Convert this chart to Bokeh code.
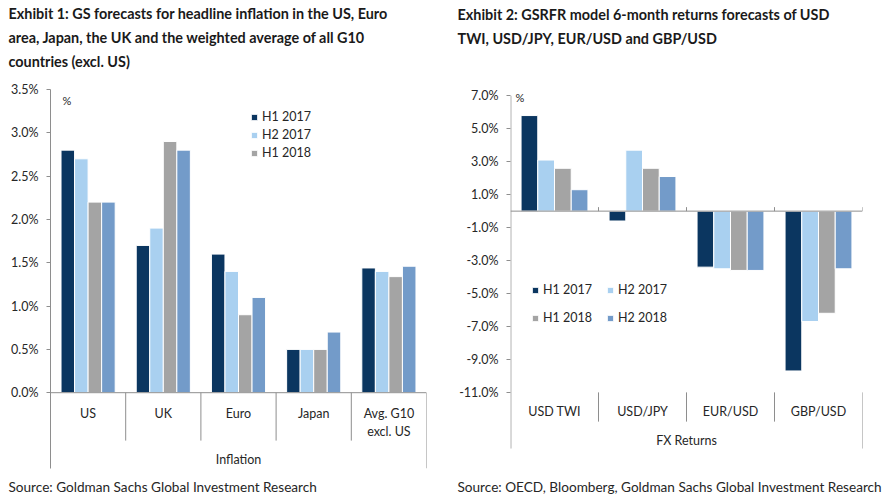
from bokeh.plotting import figure
from bokeh.models import FixedTicker, PrintfTickFormatter, Label, Legend, LegendItem, ColumnDataSource, Title
from bokeh.transform import dodge
from bokeh.layouts import row
from bokeh.core.properties import value
from bokeh.embed import file_html
from bokeh.resources import INLINE

# ---------------- data ----------------
series = ["H1 2017", "H2 2017", "H1 2018", "H2 2018"]
colors = ["#0b3660", "#a9d0f0", "#a4a4a4", "#739bc9"]

inf_categories = ["US", "UK", "Euro", "Japan", "Avg. G10 excl. US"]
inf_labels = ["US", "UK", "Euro", "Japan", "Avg. G10\nexcl. US"]
inf_h1_2017 = [2.8, 1.7, 1.6, 0.5, 1.44]
inf_h2_2017 = [2.7, 1.9, 1.4, 0.5, 1.40]
inf_h1_2018 = [2.2, 2.9, 0.9, 0.5, 1.34]
inf_h2_2018 = [2.2, 2.8, 1.1, 0.7, 1.46]
inf_ticks = [0.0, 0.5, 1.0, 1.5, 2.0, 2.5, 3.0, 3.5]
inf_group = "Inflation"

fx_categories = ["USD TWI", "USD/JPY", "EUR/USD", "GBP/USD"]
fx_h1_2017 = [5.8, -0.6, -3.4, -9.7]
fx_h2_2017 = [3.1, 3.7, -3.5, -6.7]
fx_h1_2018 = [2.6, 2.6, -3.6, -6.2]
fx_h2_2018 = [1.3, 2.1, -3.6, -3.5]
fx_ticks = [-11, -9, -7, -5, -3, -1, 1, 3, 5, 7]
fx_group = "FX Returns"

title1 = ["Exhibit 1: GS forecasts for headline inflation in the US, Euro",
          "area, Japan, the UK and the weighted average of all G10",
          "countries (excl. US)"]
title2 = ["Exhibit 2: GSRFR model 6-month returns forecasts of USD",
          "TWI, USD/JPY, EUR/USD and GBP/USD"]
source1 = "Source: Goldman Sachs Global Investment Research"
source2 = "Source: OECD, Bloomberg, Goldman Sachs Global Investment Research"

FONT = "Lato"
AXIS_COLOR = "#8e8e8e"
TEXT_COLOR = "#262626"


def style_axis(p, ticks, show_line=True):
    p.xaxis.visible = False
    p.xgrid.visible = False
    p.ygrid.visible = False
    p.outline_line_color = None
    ax = p.yaxis[0]
    ax.ticker = FixedTicker(ticks=ticks)
    ax.formatter = PrintfTickFormatter(format="%.1f%%")
    ax.axis_line_color = AXIS_COLOR if show_line else None
    ax.major_tick_line_color = AXIS_COLOR
    ax.major_tick_out = 4
    ax.major_tick_in = 0
    ax.minor_tick_line_color = None
    ax.major_label_text_font = FONT
    ax.major_label_text_font_size = "12.5px"
    ax.major_label_text_color = TEXT_COLOR
    ax.major_label_standoff = 8


def add_label(p, x, y, text, size="12px"):
    p.add_layout(Label(x=x, y=y, x_units="screen", y_units="screen", text=text,
                       text_font=FONT, text_font_size=size, text_color=TEXT_COLOR,
                       text_align="left", text_baseline="middle"))


def side_text(p, side, text, offset, standoff, size, bold=False):
    p.add_layout(Title(text=text, align="left", offset=offset, standoff=standoff,
                       text_font=FONT, text_font_size=size,
                       text_font_style="bold" if bold else "normal",
                       text_color="#1a1a1a" if bold else TEXT_COLOR,
                       text_line_height=1.0), side)


def add_title(p, lines, offset, gap_standoff):
    # spacer next to the frame, then the lines from the bottom one upward
    side_text(p, "above", " ", offset, gap_standoff, "12px")
    for t in reversed(lines):
        side_text(p, "above", t, offset, 5, "14.4px", bold=True)


def add_source(p, text, offset):
    side_text(p, "below", " ", offset, 0, "5px")
    side_text(p, "below", text, offset, 0, "13.6px")


def add_bars(p, cats, vals, offsets, width):
    rs = []
    for name, v, c, off in zip(series, vals, colors, offsets):
        src = ColumnDataSource(dict(cat=cats, val=v))
        r = p.vbar(x=dodge("cat", off, range=p.x_range), top="val", bottom=0, width=width,
                   source=src, fill_color=c, line_color="white", line_width=1)
        rs.append(r)
    return rs


def make_legend(items, x, y, orientation, spacing, label_width):
    return Legend(items=items, location=(x, y), orientation=orientation,
                  glyph_width=8, glyph_height=8, label_standoff=4, label_height=13,
                  label_width=label_width, spacing=spacing, padding=0, margin=0,
                  border_line_color=None, background_fill_alpha=0,
                  label_text_font=FONT, label_text_font_size="12.5px",
                  label_text_color=TEXT_COLOR)


# ---------------- Exhibit 1 ----------------
p1 = figure(x_range=inf_categories, y_range=(-0.875, 3.5), width=448, height=495,
            output_backend="svg", toolbar_location=None, title=None,
            min_border_left=50, min_border_right=22, min_border_top=88, min_border_bottom=27)
style_axis(p1, inf_ticks)
r1 = add_bars(p1, inf_categories, [inf_h1_2017, inf_h2_2017, inf_h1_2018, inf_h2_2018],
              [-0.27, -0.09, 0.09, 0.27], 0.18)
n1 = len(inf_categories)
p1.segment(x0=[0], y0=[0], x1=[n1], y1=[0], line_color=AXIS_COLOR, line_width=1)
p1.segment(x0=list(range(1, n1 + 1)), y0=[0] * n1, x1=list(range(1, n1 + 1)),
           y1=[-0.553] * (n1 - 1) + [-0.875], line_color=AXIS_COLOR, line_width=1)
p1.text(x=inf_categories, y=[-0.15] * n1, text=inf_labels, text_align="center", text_baseline="top",
        text_font=value(FONT), text_font_size="12.5px", text_color=TEXT_COLOR, text_line_height=1.25)
p1.text(x=[n1 / 2], y=[-0.771], text=[inf_group], text_align="center", text_baseline="middle",
        text_font=value(FONT), text_font_size="12.5px", text_color=TEXT_COLOR)
p1.add_layout(make_legend([LegendItem(label=s, renderers=[r]) for s, r in zip(series[:3], r1[:3])],
                          200, 308, "vertical", 3, 20))
add_label(p1, 12, 368, "%", size="11px")
add_title(p1, title1, -42, 0)
add_source(p1, source1, -42)

# ---------------- Exhibit 2 ----------------
fx_top = 7.381
fx_bottom = -15.619
p2 = figure(x_range=fx_categories, y_range=(fx_bottom, fx_top), width=435, height=495,
            output_backend="svg", toolbar_location=None, title=None,
            min_border_left=62, min_border_right=21, min_border_top=88, min_border_bottom=27)
style_axis(p2, fx_ticks, show_line=False)
r2 = add_bars(p2, fx_categories, [fx_h1_2017, fx_h2_2017, fx_h1_2018, fx_h2_2018],
              [-0.285, -0.095, 0.095, 0.285], 0.19)
n2 = len(fx_categories)
# value axis line (from the top tick down to the outer border of the category box)
p2.segment(x0=[0.004], y0=[fx_ticks[-1]], x1=[0.004], y1=[-14.408], line_color=AXIS_COLOR, line_width=1)
p2.segment(x0=[0], y0=[0], x1=[n2], y1=[0], line_color=AXIS_COLOR, line_width=1)
p2.segment(x0=list(range(1, n2 + 1)), y0=[0] * n2, x1=list(range(1, n2 + 1)), y1=[0.242] * n2,
           line_color=AXIS_COLOR, line_width=1)
p2.segment(x0=list(range(1, n2 + 1)), y0=[fx_ticks[0]] * n2, x1=list(range(1, n2 + 1)),
           y1=[-12.774] * (n2 - 1) + [-14.408], line_color=AXIS_COLOR, line_width=1)
p2.text(x=fx_categories, y=[-12.168] * n2, text=fx_categories, text_align="center", text_baseline="middle",
        text_font=value(FONT), text_font_size="12.5px", text_color=TEXT_COLOR)
p2.text(x=[n2 / 2], y=[-13.924], text=[fx_group], text_align="center", text_baseline="middle",
        text_font=value(FONT), text_font_size="12.5px", text_color=TEXT_COLOR)
p2.add_layout(make_legend([LegendItem(label=s, renderers=[r]) for s, r in zip(series[:2], r2[:2])],
                          21, 171, "horizontal", 8, 55))
p2.add_layout(make_legend([LegendItem(label=s, renderers=[r]) for s, r in zip(series[2:], r2[2:])],
                          21, 143, "horizontal", 8, 55))
add_label(p2, 5, 371, "%", size="11px")
add_title(p2, title2, -53, 23)
add_source(p2, source2, -53)

layout = row(p1, p2)
open("out.html", "w").write(file_html(layout, INLINE))
